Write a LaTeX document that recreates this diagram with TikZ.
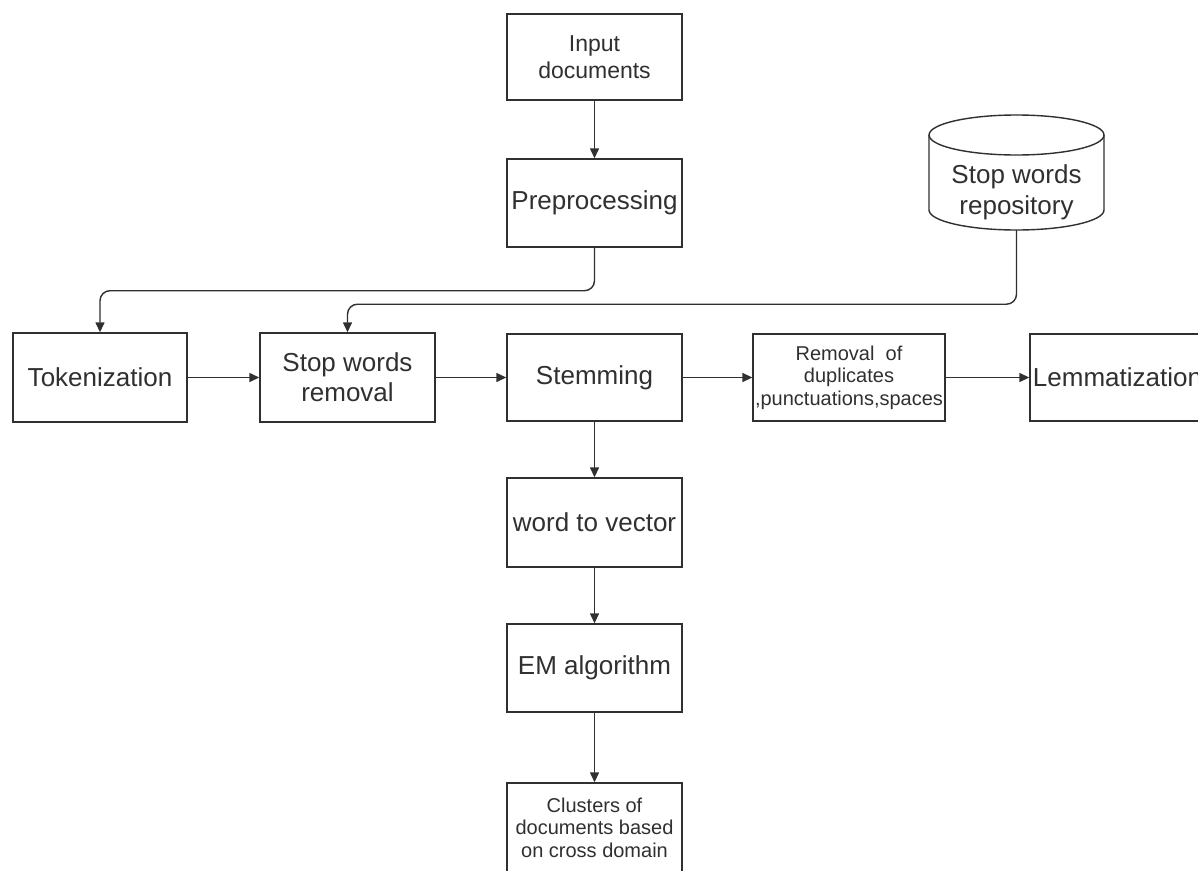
\documentclass[tikz,border=0pt]{standalone}
\usepackage{fontspec}
\setmainfont{Liberation Sans}
\usetikzlibrary{arrows.meta}
\definecolor{ink}{RGB}{48,48,48}
\begin{document}
\begin{tikzpicture}[x=1pt,y=-1pt,
  box/.style={draw=ink, line width=1.4pt, minimum width=175pt, minimum height=88pt,
    inner sep=2pt, align=center, text=ink, font=\fontsize{26}{30}\selectfont},
  mid/.style={font=\fontsize{23}{27}\selectfont},
  small/.style={font=\fontsize{20}{22.5}\selectfont},
  arr/.style={draw=ink, line width=1.4pt, -{Triangle[length=10pt,width=9pt]}},
  cyl/.style={draw=ink, line width=1.4pt}]
\useasboundingbox (0,0) rectangle (1198,870);
\fill[white] (0,0) rectangle (1198,870);

\node[box, mid, minimum height=86pt] (in) at (594.5,57) {Input\\documents};
\node[box] (pre) at (594.5,203) {Preprocessing};
\node[box, minimum width=174pt, minimum height=89pt] (tok) at (100,377.5) {Tokenization};
\node[box, minimum height=89pt] (swr) at (347.5,377.5) {Stop words\\removal};
\node[box, minimum height=87pt] (stem) at (594.5,377.5) {Stemming};
\node[box, small, minimum width=190pt, minimum height=87pt] (rem) at (849,377.5) {Removal\ \ of\\duplicates\\,punctuations,spaces};
\node[box, minimum height=87pt] (lem) at (1117.5,377.5) {Lemmatization};
\node[box, minimum height=89pt] (w2v) at (594.5,522.5) {word to vector};
\node[box] (em) at (594.5,668) {EM algorithm};
\node[box, small, minimum height=89pt] (clu) at (594.5,827.5) {Clusters of\\documents based\\on cross domain};

% cylinder: repository
\node[minimum width=175pt, minimum height=75pt, inner sep=0pt, align=center, text=ink,
  font=\fontsize{26}{31}\selectfont] (repo) at (1016.5,192.5) {Stop words\\repository};
\draw[cyl] (1016.5,135) ellipse[x radius=87.5pt, y radius=20pt];
\draw[cyl] (929,135) -- (929,210)
  .. controls (929,221.05) and (968.17,230) .. (1016.5,230)
  .. controls (1064.83,230) and (1104,221.05) .. (1104,210) -- (1104,135);

% connectors
\draw[arr] (in) -- (pre);
\draw[arr, rounded corners=10pt] (pre.south) -- ++(0,43) -| (tok.north);
\draw[arr, rounded corners=10pt] (repo.south) -- ++(0,74) -| (swr.north);
\draw[arr] (tok) -- (swr);
\draw[arr] (swr) -- (stem);
\draw[arr] (stem) -- (rem);
\draw[arr] (rem) -- (lem);
\draw[arr] (stem) -- (w2v);
\draw[arr] (w2v) -- (em);
\draw[arr] (em) -- (clu);
\end{tikzpicture}
\end{document}
